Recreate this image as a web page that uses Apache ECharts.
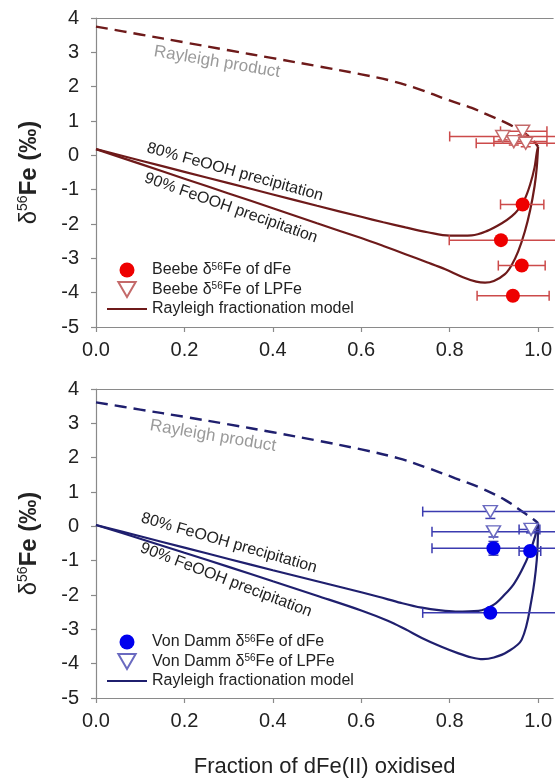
<!DOCTYPE html>
<html><head><meta charset="utf-8">
<script src="https://cdn.jsdelivr.net/npm/echarts@6/dist/echarts.min.js"></script>
<style>html,body{margin:0;padding:0;background:#fff}#c{width:555px;height:783px}</style>
</head><body><div id="c"></div><script>
const FONT = '"Liberation Sans", Arial, sans-serif';

// ---------- Beebe (top panel) ----------
const beebeDFeX   = [0.965, 0.916, 0.963, 0.943];
const beebeDFeY   = [-1.43, -2.47, -3.21, -4.09];
const beebeDFeXLo = [0.915, 0.799, 0.910, 0.862];
const beebeDFeXHi = [1.013, 1.040, 1.016, 1.025];
const beebeDFeYLo = [-1.53, -2.57, -3.31, -4.19];
const beebeDFeYHi = [-1.33, -2.37, -3.11, -3.99];

const beebeLPFeX   = [0.920, 0.945, 0.965, 0.972];
const beebeLPFeY   = [0.55, 0.40, 0.70, 0.35];
const beebeLPFeXLo = [0.800, 0.900, 0.915, 0.860];
const beebeLPFeXHi = [1.040, 1.020, 1.020, 1.040];
const beebeLPFeYLo = [0.45, 0.30, 0.60, 0.25];
const beebeLPFeYHi = [0.65, 0.50, 0.80, 0.45];

const beebeProdX = [0, 0.1, 0.2, 0.3, 0.4, 0.5, 0.6, 0.662, 0.73, 0.797, 0.85, 0.888, 0.93, 0.97, 0.99, 1.0];
const beebeProdY = [3.75, 3.52, 3.29, 3.06, 2.83, 2.60, 2.36, 2.19, 1.93, 1.61, 1.38, 1.17, 0.93, 0.64, 0.42, 0.25];
const beebe80X = [0, 0.1, 0.2, 0.3, 0.4, 0.5, 0.6, 0.65, 0.7, 0.75, 0.8, 0.85, 0.885, 0.918, 0.94, 0.955, 0.97, 0.982, 0.992, 0.997, 1.0];
const beebe80Y = [0.18, -0.15, -0.48, -0.81, -1.14, -1.47, -1.79, -1.95, -2.10, -2.24, -2.34, -2.33, -2.20, -1.98, -1.78, -1.58, -1.27, -0.85, -0.35, 0.08, 0.25];
const beebe90X = [0, 0.1, 0.2, 0.3, 0.4, 0.5, 0.6, 0.65, 0.7, 0.75, 0.79, 0.83, 0.86, 0.88, 0.9, 0.925, 0.94, 0.955, 0.97, 0.982, 0.992, 0.997, 1.0];
const beebe90Y = [0.18, -0.25, -0.68, -1.11, -1.54, -1.98, -2.41, -2.64, -2.88, -3.12, -3.32, -3.55, -3.68, -3.71, -3.66, -3.46, -3.20, -2.80, -2.22, -1.60, -0.90, -0.35, 0.25];

// ---------- Von Damm (bottom panel) ----------
const vdDFeX   = [0.899, 0.982, 0.892];
const vdDFeY   = [-0.64, -0.72, -2.52];
const vdDFeXLo = [0.760, 0.957, 0.739];
const vdDFeXHi = [1.100, 1.006, 1.100];
const vdDFeYLo = [-0.84, -0.82, -2.62];
const vdDFeYHi = [-0.44, -0.62, -2.42];

const vdLPFeX   = [0.892, 0.899, 0.984];
const vdLPFeY   = [0.43, -0.16, -0.09];
const vdLPFeXLo = [0.739, 0.760, 0.957];
const vdLPFeXHi = [1.100, 1.100, 1.004];
const vdLPFeYLo = [0.23, -0.31, -0.19];
const vdLPFeYHi = [0.58, -0.01, 0.01];

const vdProdX = [0, 0.1, 0.2, 0.3, 0.4, 0.5, 0.6, 0.685, 0.75, 0.813, 0.87, 0.925, 0.97, 0.99, 1.0];
const vdProdY = [3.61, 3.40, 3.19, 2.97, 2.74, 2.50, 2.24, 1.98, 1.70, 1.40, 1.12, 0.77, 0.38, 0.20, 0.09];
const vd80X = [0, 0.1, 0.2, 0.3, 0.4, 0.5, 0.6, 0.639, 0.69, 0.737, 0.78, 0.813, 0.865, 0.9, 0.925, 0.945, 0.963, 0.98, 0.993, 1.0];
const vd80Y = [0.04, -0.29, -0.62, -0.95, -1.28, -1.60, -1.92, -2.05, -2.23, -2.37, -2.45, -2.48, -2.46, -2.28, -1.98, -1.68, -1.28, -0.80, -0.30, 0.09];
const vd90X = [0, 0.1, 0.2, 0.3, 0.4, 0.5, 0.6, 0.66, 0.7, 0.737, 0.78, 0.82, 0.85, 0.875, 0.9, 0.93, 0.963, 0.985, 0.997, 1.0];
const vd90Y = [0.04, -0.36, -0.77, -1.18, -1.60, -2.02, -2.45, -2.75, -3.00, -3.25, -3.50, -3.70, -3.82, -3.87, -3.82, -3.66, -3.30, -2.15, -0.98, 0.09];

// axis settings (x range is cut by the right edge of the picture)
const xMin = 0, xMax = 1.034, xStep = 0.2;
const yMin = -5, yMax = 4, yStep = 1;

const zip = (a, b) => a.map((v, i) => [v, b[i]]);
const errData = (x, y, xl, xh, yl, yh) => x.map((v, i) => [v, y[i], xl[i], xh[i], yl[i], yh[i]]);

const RED_LINE = '#6e1a1a', RED_ERR = '#cc4a4a', RED_DOT = '#ee0000', RED_TRI = '#c46a6a';
const BLUE_LINE = '#1f1f6e', BLUE_ERR = '#3b3bb0', BLUE_DOT = '#0000ee', BLUE_TRI = '#6a6ac0';
const TRI = 'path://M0,0L10,0L5,8.66Z';
const BAR = 'path://M0,0L40,0L40,2.2L0,2.2Z';
const GREY = '#8a8a8a';

function errRender(color) {
  return function (params, api) {
    const x = api.value(0), y = api.value(1);
    const pL = api.coord([api.value(2), y]), pR = api.coord([api.value(3), y]);
    const pB = api.coord([x, api.value(4)]), pT = api.coord([x, api.value(5)]);
    const c = 5, st = { stroke: color, lineWidth: 1.5 };
    const ln = (x1, y1, x2, y2) => ({ type: 'line', shape: { x1, y1, x2, y2 }, style: st });
    return { type: 'group', children: [
      ln(pL[0], pL[1], pR[0], pR[1]),
      ln(pL[0], pL[1] - c, pL[0], pL[1] + c),
      ln(pR[0], pR[1] - c, pR[0], pR[1] + c),
      ln(pB[0], pB[1], pT[0], pT[1]),
      ln(pB[0] - c, pB[1], pB[0] + c, pB[1]),
      ln(pT[0] - c, pT[1], pT[0] + c, pT[1])
    ]};
  };
}

function axes(idx) {
  const axLine = { show: true, onZero: false, lineStyle: { color: GREY, width: 1.2 } };
  const axTick = { show: true, inside: false, length: 5, lineStyle: { color: GREY, width: 1.2 } };
  const x = {
    gridIndex: idx, type: 'value', min: xMin, max: xMax, interval: xStep, position: 'bottom',
    axisLine: axLine, axisTick: axTick, splitLine: { show: false },
    axisLabel: { fontSize: 20, color: '#222', fontFamily: FONT, margin: 13, showMaxLabel: false,
      formatter: v => v.toFixed(1) }
  };
  const xTop = {
    gridIndex: idx, type: 'value', min: xMin, max: xMax, position: 'top',
    axisLine: axLine, axisTick: { show: false }, axisLabel: { show: false }, splitLine: { show: false }
  };
  const y = {
    gridIndex: idx, type: 'value', min: yMin, max: yMax, interval: yStep,
    axisLine: axLine, axisTick: axTick, splitLine: { show: false },
    axisLabel: { fontSize: 20, color: '#222', fontFamily: FONT, margin: 17 },
    name: '{d|δ}{s|56}{f|Fe (‰)}', nameLocation: 'middle', nameGap: 54, nameRotate: 90,
    nameTextStyle: { fontFamily: FONT, color: '#222', rich: {
      d: { fontSize: 24, fontFamily: FONT, color: '#222' },
      s: { fontSize: 14, fontFamily: FONT, color: '#222', verticalAlign: 'top', lineHeight: 26 },
      f: { fontSize: 24, fontFamily: FONT, color: '#222', fontWeight: 'bold' }
    } }
  };
  if (idx === 1) {
    Object.assign(x, { name: 'Fraction of dFe(II) oxidised', nameLocation: 'middle', nameGap: 58,
      nameTextStyle: { fontSize: 22, color: '#222', fontFamily: FONT } });
  }
  return { x, xTop, y };
}
const a0 = axes(0), a1 = axes(1);

const legendNames = {
  'Beebe dFe': 'Beebe δ{s|56}Fe of dFe',
  'Beebe LPFe': 'Beebe δ{s|56}Fe of LPFe',
  'Beebe Rayleigh': 'Rayleigh fractionation model',
  'VD dFe': 'Von Damm δ{s|56}Fe of dFe',
  'VD LPFe': 'Von Damm δ{s|56}Fe of LPFe',
  'VD Rayleigh': 'Rayleigh fractionation model'
};
function legend(top, names) {
  return {
    orient: 'vertical', left: 107, top, padding: 0, itemWidth: 40, itemHeight: 15, itemGap: 3,
    selectedMode: false,
    data: [{ name: names[0], icon: 'circle' }, { name: names[1], icon: TRI }, { name: names[2], icon: BAR }],
    formatter: n => legendNames[n],
    textStyle: { fontSize: 16, lineHeight: 16, color: '#222', fontFamily: FONT,
      rich: { s: { fontSize: 10, fontFamily: FONT, color: '#222', verticalAlign: 'top', lineHeight: 16 } } }
  };
}

function lineSeries(name, x, y, color, idx, dashed) {
  return { type: 'line', name, xAxisIndex: idx * 2, yAxisIndex: idx, data: zip(x, y), symbol: 'none',
    showSymbol: false, smooth: 0.35, z: 3, silent: true,
    lineStyle: { color, width: dashed ? 2.4 : 2.2, type: dashed ? [12, 7] : 'solid' }, itemStyle: { color } };
}
function errSeries(data, color, idx) {
  return { type: 'custom', xAxisIndex: idx * 2, yAxisIndex: idx, renderItem: errRender(color), data,
    encode: { x: 0, y: 1 }, z: 4, silent: true };
}

const annot = (text, x, y, deg, fill, size) => ({
  type: 'text', x, y, rotation: -deg * Math.PI / 180, z: 100,
  style: { text, fill, fontSize: size, fontFamily: FONT, align: 'center', verticalAlign: 'middle' }
});

const option = {
  backgroundColor: '#fff',
  animation: false,
  grid: [
    { left: 96, top: 18, right: 0, height: 309 },
    { left: 96, top: 389, right: 0, height: 309 }
  ],
  xAxis: [a0.x, a0.xTop, a1.x, a1.xTop],
  yAxis: [a0.y, a1.y],
  legend: [legend(262, ['Beebe dFe', 'Beebe LPFe', 'Beebe Rayleigh']),
           legend(634, ['VD dFe', 'VD LPFe', 'VD Rayleigh'])],
  graphic: [
    annot('Rayleigh product', 217, 62, 9.5, '#9a9a9a', 17),
    annot('80% FeOOH precipitation', 235, 172, 15.5, '#222', 16),
    annot('90% FeOOH precipitation', 231, 208, 19.5, '#222', 16),
    annot('Rayleigh product', 213, 436, 9.5, '#9a9a9a', 17),
    annot('80% FeOOH precipitation', 229, 543, 16, '#222', 16),
    annot('90% FeOOH precipitation', 226, 580, 21, '#222', 16)
  ],
  series: [
    lineSeries('Beebe product', beebeProdX, beebeProdY, RED_LINE, 0, true),
    lineSeries('Beebe Rayleigh', beebe80X, beebe80Y, RED_LINE, 0, false),
    lineSeries('Beebe 90', beebe90X, beebe90Y, RED_LINE, 0, false),
    errSeries(errData(beebeDFeX, beebeDFeY, beebeDFeXLo, beebeDFeXHi, beebeDFeYLo, beebeDFeYHi), RED_ERR, 0),
    errSeries(errData(beebeLPFeX, beebeLPFeY, beebeLPFeXLo, beebeLPFeXHi, beebeLPFeYLo, beebeLPFeYHi), RED_ERR, 0),
    { type: 'scatter', name: 'Beebe LPFe', xAxisIndex: 0, yAxisIndex: 0, data: zip(beebeLPFeX, beebeLPFeY),
      symbol: TRI, symbolSize: [14, 12], z: 5, itemStyle: { color: '#fff', borderColor: RED_TRI, borderWidth: 1.5, opacity: 1 } },
    { type: 'scatter', name: 'Beebe dFe', xAxisIndex: 0, yAxisIndex: 0, data: zip(beebeDFeX, beebeDFeY),
      symbol: 'circle', symbolSize: 14, z: 6, itemStyle: { color: RED_DOT, opacity: 1 } },

    lineSeries('VD product', vdProdX, vdProdY, BLUE_LINE, 1, true),
    lineSeries('VD Rayleigh', vd80X, vd80Y, BLUE_LINE, 1, false),
    lineSeries('VD 90', vd90X, vd90Y, BLUE_LINE, 1, false),
    errSeries(errData(vdDFeX, vdDFeY, vdDFeXLo, vdDFeXHi, vdDFeYLo, vdDFeYHi), BLUE_ERR, 1),
    errSeries(errData(vdLPFeX, vdLPFeY, vdLPFeXLo, vdLPFeXHi, vdLPFeYLo, vdLPFeYHi), BLUE_ERR, 1),
    { type: 'scatter', name: 'VD LPFe', xAxisIndex: 2, yAxisIndex: 1, data: zip(vdLPFeX, vdLPFeY),
      symbol: TRI, symbolSize: [14, 12], z: 5, itemStyle: { color: '#fff', borderColor: BLUE_TRI, borderWidth: 1.5, opacity: 1 } },
    { type: 'scatter', name: 'VD dFe', xAxisIndex: 2, yAxisIndex: 1, data: zip(vdDFeX, vdDFeY),
      symbol: 'circle', symbolSize: 14, z: 6, itemStyle: { color: BLUE_DOT, opacity: 1 } }
  ]
};
echarts.init(document.getElementById('c'), null, { renderer: 'canvas' }).setOption(option);
</script></body></html>
